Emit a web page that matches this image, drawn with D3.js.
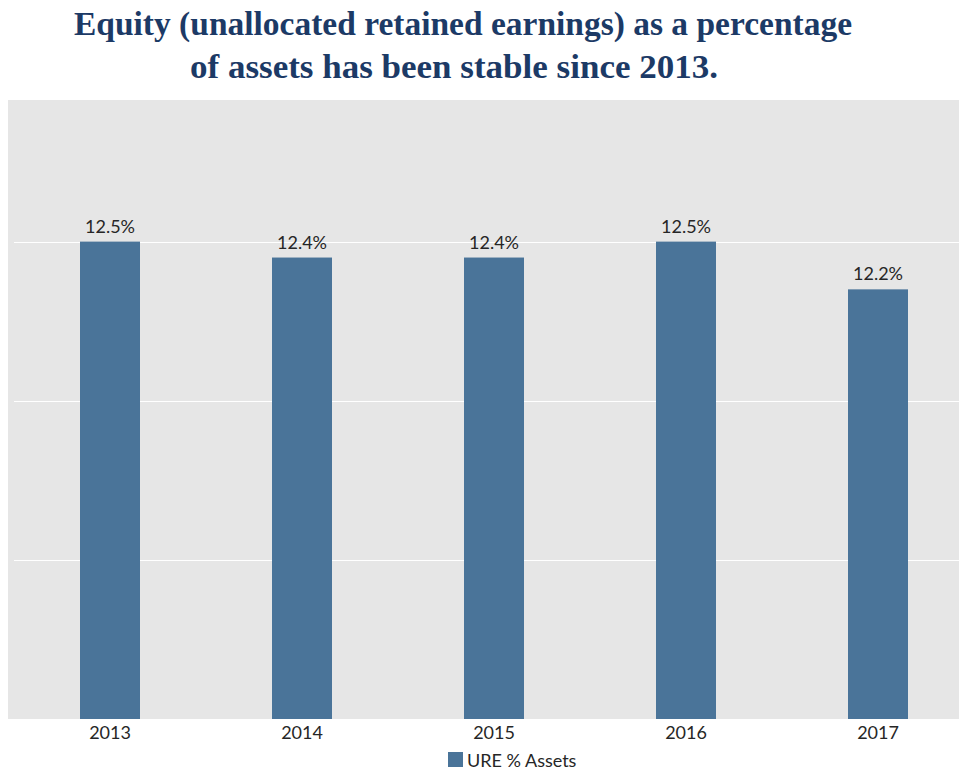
<!DOCTYPE html>
<html>
<head>
<meta charset="utf-8">
<script src="https://cdn.jsdelivr.net/npm/d3@7/dist/d3.min.js"></script>
<style>
  html, body { margin: 0; padding: 0; background: #ffffff; }
  svg { display: block; }
</style>
</head>
<body>
<svg id="chart" width="959" height="771"></svg>
<script>
const titleLines = ["Equity (unallocated retained earnings) as a percentage", "of assets has been stable since 2013."];
const categories = ["2013", "2014", "2015", "2016", "2017"];
const values = [12.5, 12.4, 12.4, 12.5, 12.2];
const gridTicks = [10.5, 11.5, 12.5];
const seriesName = "URE % Assets";

const W = 959, H = 771;
const svg = d3.select("#chart");

const area = { left: 8, top: 100, right: 959, bottom: 719 };
const plot = { left: 14, right: 974 };

svg.append("rect")
  .attr("x", area.left).attr("y", area.top)
  .attr("width", area.right - area.left).attr("height", area.bottom - area.top)
  .attr("fill", "#e6e6e6");

const x = d3.scaleBand().domain(categories).range([plot.left, plot.right]).paddingInner(0.6875).paddingOuter(0.34375);
const y = d3.scaleLinear().domain([9.5, 13.39]).range([area.bottom, area.top]);

// gridlines
svg.append("g").selectAll("line").data(gridTicks).join("line")
  .attr("x1", plot.left).attr("x2", area.right)
  .attr("y1", d => Math.round(y(d)) + 0.5).attr("y2", d => Math.round(y(d)) + 0.5)
  .attr("stroke", "#ffffff").attr("stroke-width", 1.2);

// bars
svg.append("g").selectAll("rect").data(values).join("rect")
  .attr("x", (d, i) => x(categories[i]))
  .attr("width", x.bandwidth())
  .attr("y", d => y(d))
  .attr("height", d => y.range()[0] - y(d))
  .attr("fill", "#4a7499");

const textFont = "Lato, 'Open Sans', sans-serif";
const textColor = "#262626";

// value labels
svg.append("g").selectAll("text").data(values).join("text")
  .attr("x", (d, i) => x(categories[i]) + x.bandwidth() / 2)
  .attr("y", d => y(d) - 9)
  .attr("text-anchor", "middle")
  .attr("font-family", textFont)
  .attr("font-size", 18)
  .attr("fill", textColor)
  .text(d => d.toFixed(1) + "%");

// x axis labels
const xAxis = d3.axisBottom(x).tickSize(0).tickPadding(0);
const gx = svg.append("g").attr("transform", `translate(0,${area.bottom})`).call(xAxis);
gx.select(".domain").remove();
gx.selectAll("text")
  .attr("dy", 0).attr("y", 20)
  .attr("font-family", textFont)
  .attr("font-size", 18)
  .attr("fill", textColor);

// legend
const lg = svg.append("g");
lg.append("rect").attr("x", 448).attr("y", 752).attr("width", 15).attr("height", 15).attr("fill", "#4a7499");
lg.append("text").attr("x", 467).attr("y", 767)
  .attr("font-family", textFont)
  .attr("font-size", 18).attr("fill", textColor)
  .text(seriesName);

// title
const titleY = [35, 78];
const titleX = [463, 454];
const titleWidths = [778, 528];
svg.append("g").selectAll("text").data(titleLines).join("text")
  .attr("x", (d, i) => titleX[i])
  .attr("y", (d, i) => titleY[i])
  .attr("text-anchor", "middle")
  .attr("font-family", "'Liberation Serif', 'DejaVu Serif', serif")
  .attr("font-weight", "bold")
  .attr("font-size", 34)
  .attr("fill", "#1c3a66")
  .attr("textLength", (d, i) => titleWidths[i])
  .attr("lengthAdjust", "spacingAndGlyphs")
  .text(d => d);
</script>
</body>
</html>
